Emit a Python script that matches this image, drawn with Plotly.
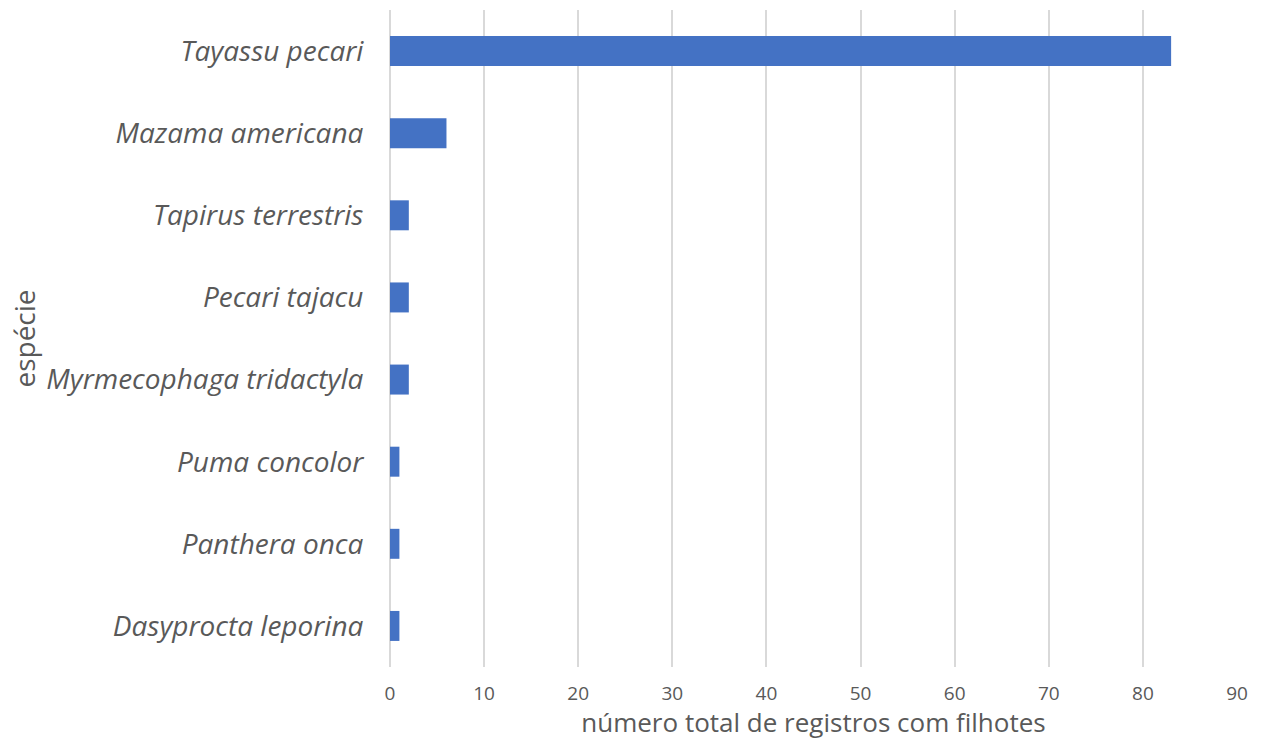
import plotly.graph_objects as go

species = ["Dasyprocta leporina", "Panthera onca", "Puma concolor", "Myrmecophaga tridactyla",
           "Pecari tajacu", "Tapirus terrestris", "Mazama americana", "Tayassu pecari"]
counts = [1, 1, 1, 2, 2, 2, 6, 83]
x_ticks = [0, 10, 20, 30, 40, 50, 60, 70, 80, 90]

FONT = "Open Sans, Noto Sans, sans-serif"
GREY = "#595959"

fig = go.Figure(go.Bar(
    y=species, x=counts, orientation="h",
    marker=dict(color="#4472C4", line=dict(width=0)),
    width=0.365,
))

fig.update_layout(
    width=1268, height=740,
    margin=dict(l=390, r=31, t=10, b=73),
    paper_bgcolor="white", plot_bgcolor="white",
    showlegend=False,
    font=dict(family=FONT, color=GREY),
    xaxis=dict(
        range=[0, 90], tickvals=x_ticks, ticktext=[str(v) for v in x_ticks],
        showgrid=True, gridcolor="#d9d9d9", gridwidth=2,
        zeroline=True, zerolinecolor="#d9d9d9", zerolinewidth=2,
        showline=False,
        tickfont=dict(size=19, color=GREY),
        ticks="outside", ticklen=9, tickcolor="rgba(0,0,0,0)",
        title=dict(text="número total de registros com filhotes",
                   font=dict(size=26, color=GREY), standoff=2),
    ),
    yaxis=dict(
        range=[-0.5, 7.5],
        showgrid=False, zeroline=False, showline=False,
        tickfont=dict(size=28, color=GREY, style="italic"),
        ticks="outside", ticklen=20, tickcolor="rgba(0,0,0,0)",
        title=dict(text="espécie", font=dict(size=28, color=GREY), standoff=2),
    ),
)

fig.write_html("out.html")
